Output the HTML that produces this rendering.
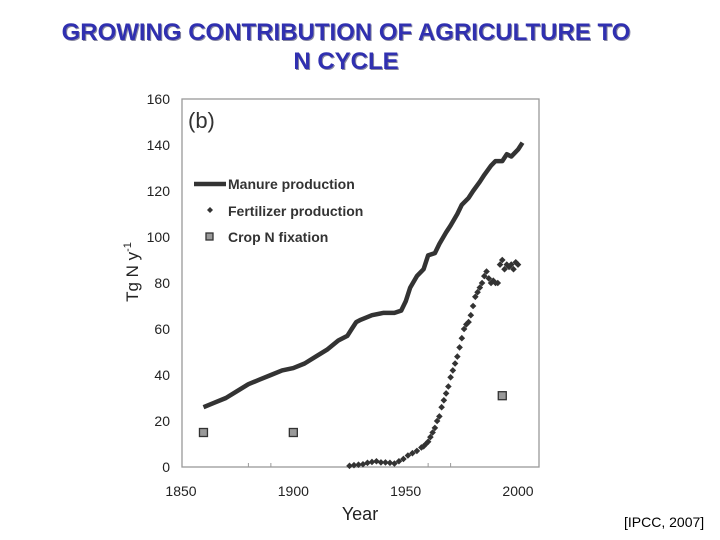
<!DOCTYPE html>
<html><head><meta charset="utf-8"><style>
body{margin:0;background:#fff;width:720px;height:540px;overflow:hidden;font-family:"Liberation Sans",sans-serif}
#title{position:absolute;left:0;width:692px;top:18px;text-align:center;font-weight:bold;font-size:24px;line-height:29px;color:#3030b0;text-shadow:1px 1px 0 #8888a0;white-space:nowrap}
#cite{position:absolute;left:624px;top:514px;font-size:14px;color:#000}
</style></head><body>
<div id="title">GROWING CONTRIBUTION OF AGRICULTURE TO<br>N CYCLE</div>
<svg id="chart" width="720" height="540" style="position:absolute;left:0;top:0"></svg>
<div id="cite">[IPCC, 2007]</div>
<script>
const xTicks=[1850,1900,1950,2000];
const yTicks=[0,20,40,60,80,100,120,140,160];
const manureYears=[1860,1865,1870,1875,1880,1885,1890,1895,1900,1905,1910,1915,1920,1924,1926,1928,1930,1935,1940,1945,1948,1950,1952,1955,1958,1960,1963,1965,1968,1970,1973,1975,1978,1980,1983,1985,1988,1990,1993,1995,1997,2000,2002];
const manureVals=[26,28,30,33,36,38,40,42,43,45,48,51,55,57,60,63,64,66,67,67,68,72,78,83,86,92,93,97,102,105,110,114,117,120,124,127,131,133,133,136,135,138,141];
const fertYears=[1925,1927,1929,1931,1933,1935,1937,1939,1941,1943,1945,1947,1949,1951,1953,1955,1957,1958,1959,1960,1961,1962,1963,1964,1965,1966,1967,1968,1969,1970,1971,1972,1973,1974,1975,1976,1977,1978,1979,1980,1981,1982,1983,1984,1985,1986,1987,1988,1989,1990,1991,1992,1993,1994,1995,1996,1997,1998,1999,2000];
const fertVals=[0.5,0.8,1,1.2,1.8,2.2,2.5,2,2,1.8,1.5,2.5,3.5,5,6,7,8.5,9,10,11,13,15,17,20,22,26,29,32,35,39,42,45,48,52,56,60,62,63,66,70,74,76,78,80,83,85,82,80,81,80,80,88,90,86,88,87,88,86,89,88];
const fixYears=[1860,1900,1993];
const fixVals=[15,15,31];

const svg=document.getElementById('chart');
const NS='http://www.w3.org/2000/svg';
const X0=182,X1=539,Y0=467,Y1=99;
const x=yr=>181+(yr-1850)*(518-181)/150;
const y=v=>467-v*(467-99)/160;
function mk(t,a,txt){const e=document.createElementNS(NS,t);for(const k in a)e.setAttribute(k,a[k]);if(txt!==undefined)e.textContent=txt;svg.appendChild(e);return e;}
let e=mk('rect',{x:X0,y:Y1,width:X1-X0,height:Y0-Y1,fill:'#fff',stroke:'#999','stroke-width':1.3});


xTicks.forEach(t=>{
  let l=mk('text',{x:x(t),y:496,'text-anchor':'middle','font-size':14,fill:'#222'},String(t));
  
  
});
[1880,1890,1960,1970].forEach(t=>{mk('line',{x1:x(t),x2:x(t),y1:Y0,y2:Y0-4,stroke:'#999'});});
yTicks.forEach(t=>{
  let l=mk('text',{x:170,y:y(t)+5,'text-anchor':'end','font-size':14,fill:'#222'},String(t));
  
  
});
e=mk('text',{x:360,y:520,'text-anchor':'middle','font-size':18,fill:'#222'},'Year');


e=mk('text',{transform:'translate(138,272) rotate(-90)','text-anchor':'middle','font-size':17,fill:'#222'});
e.innerHTML='Tg N  y<tspan dy="-7" font-size="11">-1</tspan>';


e=mk('text',{x:188,y:128,'font-size':22,fill:'#333'},'(b)');


let d=manureYears.map((yr,i)=>(i?'L':'M')+x(yr).toFixed(1)+' '+y(manureVals[i]).toFixed(1)).join(' ');
e=mk('path',{d:d,fill:'none',stroke:'#333','stroke-width':4.5,'stroke-linejoin':'round'});


fertYears.forEach((yr,i)=>{
  const cx=x(yr),cy=y(fertVals[i]);
  let p=mk('path',{d:`M${cx} ${cy-3.3}L${cx+3.3} ${cy}L${cx} ${cy+3.3}L${cx-3.3} ${cy}Z`,fill:'#333'});
  
  
});
fixYears.forEach((yr,i)=>{
  let r=mk('rect',{x:x(yr)-4,y:y(fixVals[i])-4,width:8,height:8,fill:'#999',stroke:'#333','stroke-width':1.3});
  
  
});
e=mk('line',{x1:194,x2:226,y1:184,y2:184,stroke:'#333','stroke-width':4.5});


e=mk('path',{d:'M210 207L213 210L210 213L207 210Z',fill:'#333'});


e=mk('rect',{x:206,y:233,width:7,height:7,fill:'#999',stroke:'#333','stroke-width':1.3});


[['Manure production',189],['Fertilizer production',216],['Crop N fixation',242]].forEach(([t,yy])=>{
  let l=mk('text',{x:228,y:yy,'font-size':14,'font-weight':'bold',fill:'#333'},t);
  
  
});
</script>
</body></html>
